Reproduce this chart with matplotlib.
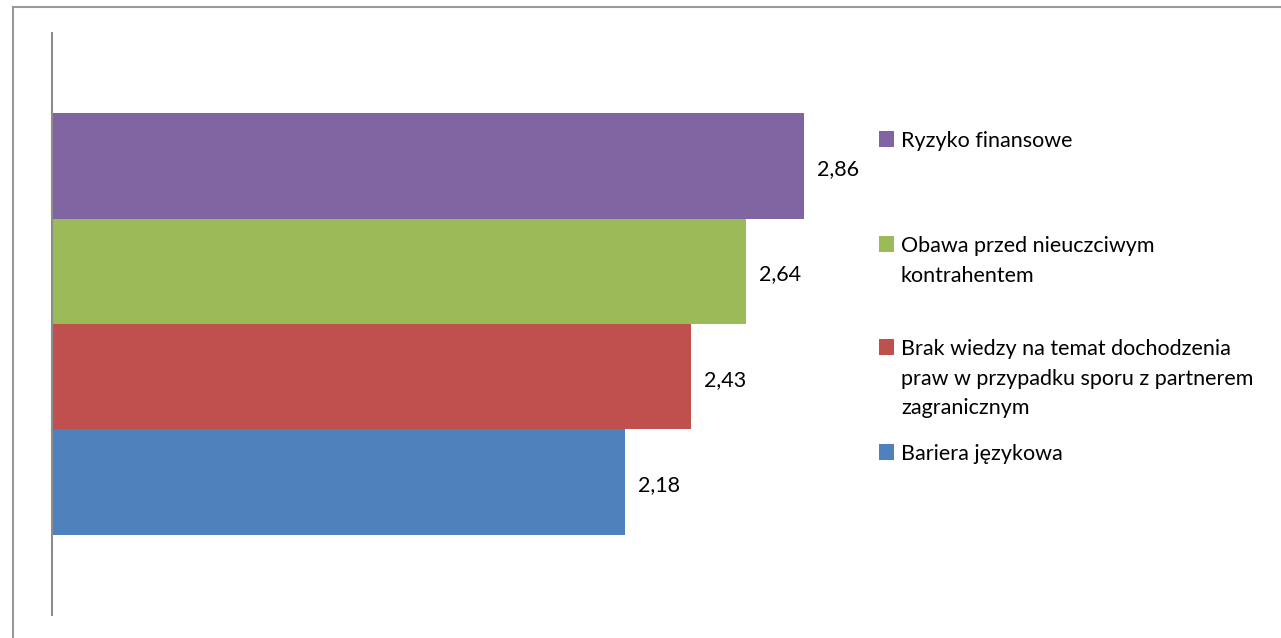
import matplotlib.pyplot as plt
from matplotlib.patches import Rectangle
from matplotlib.lines import Line2D

# data (bottom to top)
labels = ['Bariera językowa',
          'Brak wiedzy na temat dochodzenia\npraw w przypadku sporu z partnerem\nzagranicznym',
          'Obawa przed nieuczciwym\nkontrahentem',
          'Ryzyko finansowe']
values = [2.18, 2.43, 2.64, 2.86]
colors = ['#4F81BD', '#C0504D', '#9BBB59', '#8064A2']

W, H = 1281, 638
plt.rcParams['font.family'] = ['Lato', 'DejaVu Sans']
fig = plt.figure(figsize=(W / 100, H / 100), dpi=100)

# axes in pixel units: left 52, right 841, top 33, bottom 615
ax = fig.add_axes([52 / W, 1 - 615 / H, (841 - 52) / W, (615 - 33) / H])
pos = list(range(len(values)))
ax.barh(pos, values, height=1.0, color=colors, edgecolor='none')
ax.set_xlim(0, 3.0)
ax.set_ylim(-1.26, 4.26)
for p, v in zip(pos, values):
    ax.text(v + 0.05, p - 0.03, ('%.2f' % v).replace('.', ','), va='center', ha='left',
            fontsize=15.5, color='#000000')
for s in ['top', 'right', 'bottom']:
    ax.spines[s].set_visible(False)
ax.spines['left'].set_color('#8c8c8c')
ax.spines['left'].set_linewidth(1.5)
ax.set_xticks([])
ax.set_yticks([])
ax.patch.set_visible(False)

# legend drawn at fixed pixel positions, square aligned with first text line
leg_y = [452, 347, 244, 139]
for lab, c, y in zip(labels, colors, leg_y):
    fig.add_artist(Rectangle((879 / W, 1 - (y + 8) / H), 15 / W, 16 / H,
                             transform=fig.transFigure, color=c, lw=0))
    fig.text(901 / W, 1 - (y - 8) / H, lab, ha='left', va='top', fontsize=15.5,
             linespacing=1.6, color='#000000')

# chart border (top and left visible)
fig.add_artist(Line2D([13 / W, 1.0], [1 - 7 / H, 1 - 7 / H], transform=fig.transFigure,
                      color='#999999', lw=1.5))
fig.add_artist(Line2D([13 / W, 13 / W], [1 - 7 / H, 0], transform=fig.transFigure,
                      color='#999999', lw=1.5))

plt.savefig('out.png', dpi=100)
